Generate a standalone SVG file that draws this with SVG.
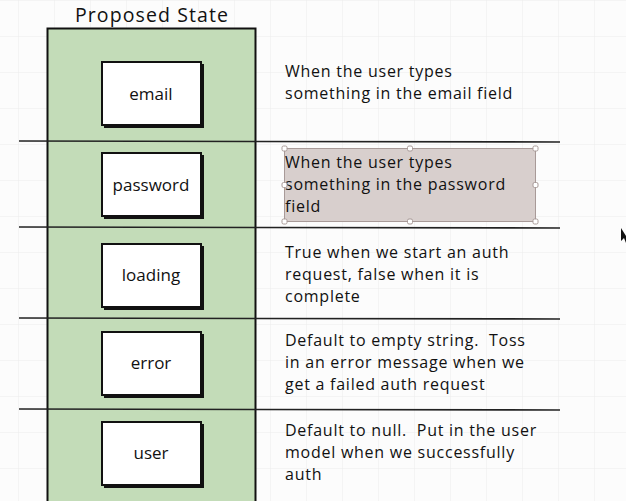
<svg xmlns="http://www.w3.org/2000/svg" width="626" height="501" viewBox="0 0 626 501">
<defs>
<pattern id="grid" width="36" height="36" patternUnits="userSpaceOnUse" x="19" y="1">
<path d="M36 0V36M0 36H36" fill="none" stroke="#ececec" stroke-width="1"/>
</pattern>
<style>
.t{font-family:"Open Sans","Liberation Sans",sans-serif;fill:#111;white-space:pre;}
.lbl{font-size:17px;text-anchor:middle;}
.desc{font-size:16px;letter-spacing:0.75px;}
.box{fill:#fff;stroke:#111;stroke-width:2;}
.sh{fill:#111;}
.sep{stroke:#222;stroke-width:1.6;}
.h{fill:#fff;stroke:#a89a98;stroke-width:1;}
</style>
</defs>
<rect width="626" height="501" fill="#fcfcfc"/>
<rect width="626" height="501" fill="url(#grid)"/>
<text class="t" x="152" y="22" font-size="19.5" letter-spacing="1.1" text-anchor="middle">Proposed State</text>
<g id="container">
<rect x="47.5" y="28.5" width="208" height="480" fill="#c3dcb8" stroke="#111" stroke-width="2"/>
</g>
<g id="connectors">
<line class="sep" x1="19" y1="141" x2="560" y2="142"/>
<line class="sep" x1="19" y1="227" x2="560" y2="228"/>
<line class="sep" x1="19" y1="318" x2="560" y2="319"/>
<line class="sep" x1="19" y1="409" x2="560" y2="410"/>
</g>
<g id="email">
<rect class="sh" x="104" y="64" width="100" height="64"/>
<rect class="box" x="102" y="62" width="99" height="63"/>
<text class="t lbl" x="151" y="100">email</text>
</g>
<g id="password">
<rect class="sh" x="104" y="155" width="100" height="64"/>
<rect class="box" x="102" y="153" width="99" height="63"/>
<text class="t lbl" x="151" y="191">password</text>
</g>
<g id="loading">
<rect class="sh" x="104" y="246" width="100" height="64"/>
<rect class="box" x="102" y="244" width="99" height="63"/>
<text class="t lbl" x="151" y="281">loading</text>
</g>
<g id="error">
<rect class="sh" x="104" y="334" width="100" height="64"/>
<rect class="box" x="102" y="332" width="99" height="63"/>
<text class="t lbl" x="151" y="369">error</text>
</g>
<g id="user">
<rect class="sh" x="104" y="424" width="100" height="64"/>
<rect class="box" x="102" y="422" width="99" height="63"/>
<text class="t lbl" x="151" y="459">user</text>
</g>
<g id="desc-email">
<text class="t desc" x="285" y="77">When the user types</text>
<text class="t desc" x="285" y="99">something in the email field</text>
</g>
<g id="desc-password">
<rect x="284.5" y="148.5" width="251" height="73" fill="#d8cfcd" stroke="#a89a98" stroke-width="1"/>
<text class="t desc" x="285" y="168">When the user types</text>
<text class="t desc" x="285" y="190">something in the password</text>
<text class="t desc" x="285" y="212">field</text>
<rect class="h" x="282" y="146" width="5" height="5" rx="1.5"/>
<rect class="h" x="407.5" y="146" width="5" height="5" rx="1.5"/>
<rect class="h" x="533" y="146" width="5" height="5" rx="1.5"/>
<rect class="h" x="282" y="182.5" width="5" height="5" rx="1.5"/>
<rect class="h" x="533" y="182.5" width="5" height="5" rx="1.5"/>
<rect class="h" x="282" y="219" width="5" height="5" rx="1.5"/>
<rect class="h" x="407.5" y="219" width="5" height="5" rx="1.5"/>
<rect class="h" x="533" y="219" width="5" height="5" rx="1.5"/>
</g>
<g id="desc-loading">
<text class="t desc" x="285" y="258">True when we start an auth</text>
<text class="t desc" x="285" y="280">request, false when it is</text>
<text class="t desc" x="285" y="302">complete</text>
</g>
<g id="desc-error">
<text class="t desc" x="285" y="346" xml:space="preserve">Default to empty string.  Toss</text>
<text class="t desc" x="285" y="368">in an error message when we</text>
<text class="t desc" x="285" y="390">get a failed auth request</text>
</g>
<g id="desc-user">
<text class="t desc" x="285" y="436" xml:space="preserve">Default to null.  Put in the user</text>
<text class="t desc" x="285" y="458">model when we successfully</text>
<text class="t desc" x="285" y="480">auth</text>
</g>
<path d="M621 228 L621 241 L624 238 L626 243 L626 236 Z" fill="#111"/>
</svg>
